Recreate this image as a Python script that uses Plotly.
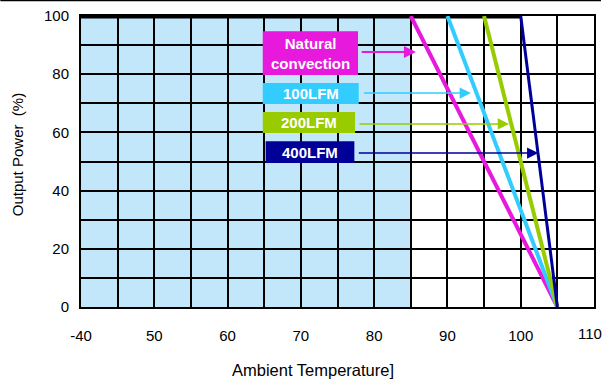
import plotly.graph_objects as go

# Data
series_names = ["Natural<br>convection", "100LFM", "200LFM", "400LFM"]
derate_start = [85, 90, 95, 100]        # temperature where derating begins (100% power)
derate_end = [105, 105, 105, 105]       # temperature where power reaches 0%
full_power = 100
zero_power = 0
colors = ["#E619DC", "#33CCFF", "#99CC00", "#000099"]
line_widths = [4, 4, 4, 3]
x_ticks = [40, 50, 60, 70, 80, 90, 100]
x_ticktext = ["-40", "50", "60", "70", "80", "90", "100"]
x_last_tick = 110
y_ticks = [0, 20, 40, 60, 80, 100]
# label box positions (data coords) and arrow rows
box_x = [(64.8, 77.8), (64.8, 77.9), (64.8, 77.4), (65.2, 77.3)]
box_y = [(79.7, 94.8), (69.8, 77.0), (59.8, 67.0), (49.5, 57.0)]
arrow_y = [87.6, 73.5, 62.9, 52.9]
arrow_from = [78.1, 78.4, 77.8, 77.7]
arrow_to = [85.7, 93.2, 98.4, 102.4]

FONT = "Liberation Sans, Arial, sans-serif"
fig = go.Figure()

# top full-power line (40 -> 100)
fig.add_trace(go.Scatter(x=[40, max(derate_start)], y=[full_power, full_power], mode="lines",
                         line=dict(color="black", width=5), showlegend=False, hoverinfo="skip"))

for name, xs, xe, c, w in zip(series_names, derate_start, derate_end, colors, line_widths):
    fig.add_trace(go.Scatter(x=[xs, xe], y=[full_power, zero_power], mode="lines",
                             line=dict(color=c, width=w), name=name, showlegend=False, hoverinfo="skip"))

shapes = []
# light blue area (full power region for all cases)
shapes.append(dict(type="rect", xref="x", yref="y", x0=40, x1=min(derate_start), y0=0, y1=100,
                   fillcolor="#C2E7FB", line=dict(width=0), layer="below"))
# axis break gap at bottom
shapes.append(dict(type="line", xref="x", yref="y", x0=45.2, x1=49.8, y0=0, y1=0,
                   line=dict(color="#C2E7FB", width=4), layer="above"))
# thin line at very top of image
shapes.append(dict(type="line", xref="paper", yref="paper", x0=-81/515, x1=1+7/515,
                   y0=1+15.5/291, y1=1+15.5/291, line=dict(color="black", width=1.5)))

annotations = []
for i, name in enumerate(series_names):
    (x0, x1), (y0, y1) = box_x[i], box_y[i]
    shapes.append(dict(type="rect", xref="x", yref="y", x0=x0, x1=x1, y0=y0, y1=y1,
                       fillcolor=colors[i], line=dict(width=0), layer="above"))
    annotations.append(dict(x=(x0 + x1) / 2, y=(y0 + y1) / 2, xref="x", yref="y", text="<b>%s</b>" % name,
                            showarrow=False, font=dict(family=FONT, size=15, color="white")))
    annotations.append(dict(x=arrow_to[i], y=arrow_y[i], ax=arrow_from[i], ay=arrow_y[i],
                            xref="x", yref="y", axref="x", ayref="y", text="", showarrow=True,
                            arrowhead=2, arrowsize=1.2 if i == 0 else 1.5, arrowwidth=2 if i == 0 else 1.5,
                            arrowcolor=colors[i]))

annotations.append(dict(x=(314 - 81) / 515, y=(307 - 369.5) / 291, xref="paper", yref="paper",
                        xanchor="center", yanchor="middle",
                        text="Ambient Temperature]", showarrow=False,
                        font=dict(family=FONT, size=16.5, color="black")))
annotations.append(dict(x=(17 - 81) / 515, y=(307 - 155) / 291, xref="paper", yref="paper",
                        xanchor="center", yanchor="middle",
                        text="Output Power  (%)", textangle=-90, showarrow=False,
                        font=dict(family=FONT, size=15, color="black")))
annotations.append(dict(x=47.3, y=-3.5, xref="x", yref="y", text="~", showarrow=False,
                        font=dict(family=FONT, size=12, color="black")))
# last x tick label (shifted left so it fits inside the page, as in the original)
annotations.append(dict(x=(591.5 - 81) / 515, y=(307 - 333) / 291, xref="paper", yref="paper",
                        xanchor="center", yanchor="middle", text=str(x_last_tick), showarrow=False,
                        font=dict(family=FONT, size=15, color="black")))

fig.update_layout(
    width=603, height=379,
    margin=dict(l=81, r=7, t=16, b=72),
    paper_bgcolor="white", plot_bgcolor="white",
    shapes=shapes, annotations=annotations,
    font=dict(family=FONT, size=15, color="black"),
    xaxis=dict(range=[40, 110], tickvals=x_ticks, ticktext=x_ticktext,
               showgrid=True, gridcolor="black", gridwidth=2,
               minor=dict(tick0=40, dtick=5, showgrid=True, gridcolor="black", gridwidth=2),
               showline=True, linecolor="black", linewidth=2, mirror=True,
               ticks="outside", ticklen=14, tickcolor="rgba(0,0,0,0)", zeroline=False,
               tickfont=dict(family=FONT, size=15)),
    yaxis=dict(range=[0, 100], tickvals=y_ticks,
               showgrid=True, gridcolor="black", gridwidth=2,
               minor=dict(tick0=0, dtick=10, showgrid=True, gridcolor="black", gridwidth=2),
               showline=True, linecolor="black", linewidth=2, mirror=True,
               ticks="outside", ticklen=7, tickcolor="rgba(0,0,0,0)", zeroline=False,
               tickfont=dict(family=FONT, size=15)),
)

fig.write_html("out.html")
